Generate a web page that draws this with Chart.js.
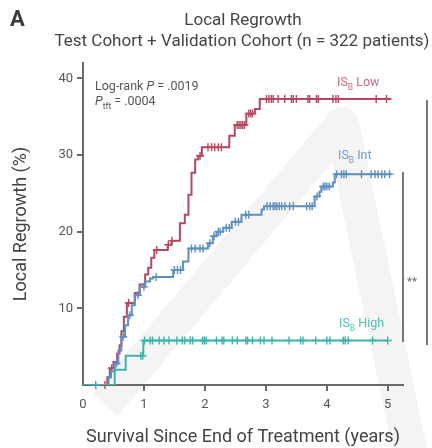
<!DOCTYPE html>
<html>
<head>
<meta charset="utf-8">
<script src="https://cdn.jsdelivr.net/npm/chart.js@4.4.1/dist/chart.umd.min.js"></script>
<style>
  html, body { margin: 0; padding: 0; background: #ffffff; }
  #wrap { width: 432px; height: 448px; }
</style>
</head>
<body>
<div id="wrap"><canvas id="km" width="432" height="448"></canvas></div>
<script>
// Axis ticks
const years = [0, 1, 2, 3, 4, 5];
const pctTicks = [10, 20, 30, 40];

// IS_B Low: event times (years) and cumulative local regrowth (%)
const lowT = [0, 0.40, 0.44, 0.50, 0.56, 0.60, 0.63, 0.67, 0.72, 0.85, 0.93, 1.02, 1.07, 1.12, 1.17, 1.39, 1.45, 1.59, 1.67, 1.73, 1.78, 1.84, 1.89, 1.95, 2.40, 2.49, 2.68, 2.82, 2.90, 5.06];
const lowV = [0, 1.0, 2.2, 3.0, 4.1, 5.2, 7.0, 8.9, 10.7, 12.0, 13.1, 14.4, 15.3, 16.6, 17.6, 18.3, 18.8, 21.1, 22.2, 24.8, 27.7, 29.4, 29.9, 31.0, 32.5, 33.9, 35.4, 36.0, 37.3, 37.3];
const lowCensored = [0.36, 0.47, 0.75, 1.21, 1.40, 1.46, 1.92, 2.05, 2.11, 2.16, 2.22, 2.27, 2.53, 2.56, 2.59, 2.62, 2.65, 2.72, 2.75, 2.78, 3.01, 3.05, 3.09, 3.12, 3.20, 3.31, 3.42, 3.45, 3.50, 3.69, 3.72, 3.83, 3.86, 4.10, 4.15, 4.19, 4.81, 4.98];

// IS_B Int
const intT = [0, 0.42, 0.46, 0.52, 0.58, 0.63, 0.69, 0.74, 0.80, 0.85, 0.93, 1.02, 1.10, 1.15, 1.48, 1.64, 1.73, 2.05, 2.13, 2.19, 2.30, 2.44, 2.60, 2.93, 2.97, 3.80, 3.88, 3.91, 4.10, 4.13, 5.06];
const intV = [0, 1.0, 1.8, 2.8, 4.5, 6.3, 7.8, 9.1, 10.4, 11.7, 12.8, 13.5, 13.9, 14.1, 15.0, 16.1, 17.8, 18.5, 19.4, 20.0, 20.5, 21.3, 22.2, 22.9, 23.3, 24.6, 25.2, 25.9, 26.4, 27.5, 27.5];
const intCensored = [0.21, 0.55, 0.66, 0.77, 0.90, 1.00, 1.20, 1.50, 1.55, 1.60, 1.78, 1.84, 1.92, 1.97, 2.08, 2.15, 2.22, 2.25, 2.35, 2.40, 2.50, 2.55, 2.67, 2.72, 3.02, 3.07, 3.12, 3.15, 3.18, 3.22, 3.26, 3.31, 3.39, 3.45, 3.67, 3.72, 3.76, 3.84, 3.94, 3.97, 4.00, 4.04, 4.16, 4.24, 4.28, 4.32, 4.57, 4.73, 4.79, 4.84, 4.90, 4.95, 5.03];

// IS_B High
const highT = [0, 0.52, 0.70, 0.99, 5.00];
const highV = [0, 2.0, 3.8, 5.8, 5.8];
const highCensored = [0.95, 0.98, 1.01, 1.10, 1.14, 1.25, 1.33, 1.41, 1.54, 1.63, 1.67, 1.76, 1.80, 1.96, 1.99, 2.02, 2.19, 2.28, 2.31, 2.45, 2.53, 2.67, 2.70, 2.78, 2.91, 2.97, 3.10, 3.38, 3.57, 3.61, 3.82, 4.00, 4.05, 4.27, 4.30, 4.35, 4.75, 5.00];

const RED = '#b4475f';
const BLUE = '#5d90c0';
const TEAL = '#3fb4a9';
const AXIS = '#6a6a6a';
const FONT = 'Roboto, "Liberation Sans", Arial, sans-serif';

// Value of a step curve at time t
function stepAt(ts, vs, t) {
  let v = vs[0];
  for (let i = 0; i < ts.length; i++) if (ts[i] <= t + 1e-9) v = vs[i];
  return v;
}
const curve = (ts, vs) => ts.map((t, i) => ({ x: t, y: vs[i] }));
const marks = (ts, vs, cs) => cs.map(t => ({ x: t, y: stepAt(ts, vs, t) }));

function lineSet(data, color, order) {
  return { data, borderColor: color, borderWidth: 2, stepped: 'before', pointRadius: 0, fill: false, order };
}
function censorSet(data, color, order) {
  return { data, showLine: false, borderColor: color, backgroundColor: color, pointStyle: 'cross',
           pointRadius: 4, pointBorderWidth: 1.4, clip: false, order };
}

// Text with optional subscripts / italics, drawn left to right
function drawRuns(ctx, x, y, runs, size, color) {
  ctx.fillStyle = color;
  ctx.textBaseline = 'alphabetic';
  ctx.textAlign = 'left';
  for (const r of runs) {
    const s = r.sub ? size * 0.68 : size;
    ctx.font = (r.italic ? 'italic ' : '') + s + 'px ' + FONT;
    ctx.fillText(r.t, x, y + (r.sub ? size * 0.3 : 0));
    x += ctx.measureText(r.t).width;
  }
}

const decor = {
  id: 'decor',
  beforeDraw(chart) {
    const ctx = chart.ctx;
    ctx.save();
    ctx.fillStyle = '#ffffff';
    ctx.fillRect(0, 0, chart.width, chart.height);
    // faint background emblem
    ctx.strokeStyle = '#f4f4f4';
    ctx.lineWidth = 34;
    ctx.lineJoin = 'round';
    ctx.beginPath();
    ctx.moveTo(105, 405);
    ctx.lineTo(342, 124);
    ctx.lineTo(412, 460);
    ctx.stroke();
    ctx.restore();
  },
  afterDraw(chart) {
    const ctx = chart.ctx;
    ctx.save();
    // panel letter and titles
    ctx.fillStyle = '#3a3a3a';
    ctx.font = 'bold 22px ' + FONT;
    ctx.textAlign = 'left';
    ctx.textBaseline = 'middle';
    ctx.fillText('A', 10, 20);
    ctx.fillStyle = '#454545';
    ctx.font = '17px ' + FONT;
    ctx.textAlign = 'center';
    ctx.fillText('Local Regrowth', 243, 21);
    ctx.fillText('Test Cohort + Validation Cohort (n = 322 patients)', 242, 42);

    // statistics
    drawRuns(ctx, 95, 90, [{ t: 'Log-rank ' }, { t: 'P', italic: true }, { t: ' = .0019' }], 12.5, '#555');
    drawRuns(ctx, 95, 105, [{ t: 'P', italic: true }, { t: 'tft', sub: true }, { t: ' = .0004' }], 12.5, '#555');

    // group labels
    drawRuns(ctx, 337, 86, [{ t: 'IS' }, { t: 'B', sub: true }, { t: ' Low' }], 12.5, '#c26a7e');
    drawRuns(ctx, 338, 159, [{ t: 'IS' }, { t: 'B', sub: true }, { t: ' Int' }], 12.5, '#6e9fcb');
    drawRuns(ctx, 339, 327, [{ t: 'IS' }, { t: 'B', sub: true }, { t: ' High' }], 12.5, '#4fbdb3');

    // pairwise comparison brackets
    ctx.strokeStyle = '#777';
    ctx.lineWidth = 2;
    ctx.beginPath();
    ctx.moveTo(403, 172); ctx.lineTo(403, 342);
    ctx.moveTo(427, 100); ctx.lineTo(427, 345);
    ctx.stroke();
    ctx.fillStyle = '#777';
    ctx.font = 'bold 11px ' + FONT;
    ctx.textAlign = 'center';
    ctx.textBaseline = 'middle';
    ctx.fillText('**', 412, 282);
    ctx.restore();
  }
};

new Chart(document.getElementById('km'), {
  type: 'line',
  data: {
    datasets: [
      censorSet(marks(highT, highV, highCensored), TEAL, 0),
      lineSet(curve(highT, highV), TEAL, 1),
      censorSet(marks(intT, intV, intCensored), BLUE, 2),
      lineSet(curve(intT, intV), BLUE, 3),
      censorSet(marks(lowT, lowV, lowCensored), RED, 4),
      lineSet(curve(lowT, lowV), RED, 5)
    ]
  },
  options: {
    responsive: false,
    animation: false,
    events: [],
    layout: { padding: { top: 63, right: 29, bottom: 0, left: 0 } },
    plugins: { legend: { display: false }, tooltip: { enabled: false }, title: { display: false } },
    scales: {
      x: {
        type: 'linear', min: 0, max: 5.25,
        afterBuildTicks: s => { s.ticks = years.map(v => ({ value: v })); },
        afterFit: s => { s.height = 63; },
        grid: {
          drawOnChartArea: false, drawTicks: true, tickLength: 6, lineWidth: 2,
          color: c => (c.tick && c.tick.value === 0) ? 'rgba(0,0,0,0)' : AXIS
        },
        border: { color: AXIS, width: 2 },
        ticks: { color: '#555', font: { family: FONT, size: 13 }, padding: 6, maxRotation: 0, autoSkip: false },
        title: { display: true, text: 'Survival Since End of Treatment (years)', color: '#444',
                 font: { family: FONT, size: 18 }, padding: { top: 4, bottom: 0 } }
      },
      y: {
        min: 0, max: 42,
        afterBuildTicks: s => { s.ticks = pctTicks.map(v => ({ value: v })); },
        afterFit: s => { s.width = 83; },
        grid: { drawOnChartArea: false, drawTicks: true, tickLength: 6, lineWidth: 2, color: AXIS },
        border: { color: AXIS, width: 2 },
        ticks: { color: '#555', font: { family: FONT, size: 13 }, padding: 4 },
        title: { display: true, text: 'Local Regrowth (%)', color: '#444',
                 font: { family: FONT, size: 18 }, padding: { top: 11, bottom: 0 } }
      }
    }
  },
  plugins: [decor]
});
</script>
</body>
</html>
